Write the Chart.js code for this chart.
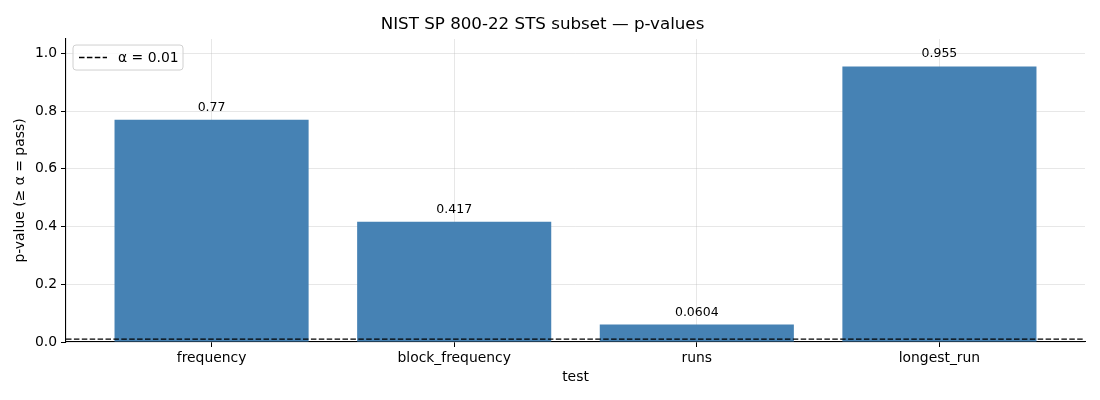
<!DOCTYPE html>
<html lang="en">
<head>
    <meta charset="UTF-8">
    <title>NIST SP 800-22 STS subset — p-values</title>
    <style>
        body {
            margin: 0;
            background-color: #fff;
        }
        #chartBox {
            width: 1100px;
            height: 400px;
        }
    </style>
</head>
<body>
    <div id="chartBox">
        <canvas id="pChart" width="1100" height="400"></canvas>
    </div>

    <script src="https://cdn.jsdelivr.net/npm/chart.js"></script>
    <script>
// data
var tests = ["frequency", "block_frequency", "runs", "longest_run"];
var pValues = [0.77, 0.417, 0.0604, 0.955];
var pLabels = ["0.77", "0.417", "0.0604", "0.955"];
var alpha = 0.01;
var alphaLabel = "α = 0.01";
var yTicks = [0, 0.2, 0.4, 0.6, 0.8, 1.0];

var FONT = "'DejaVu Sans', sans-serif";
var gridColor = "rgba(176,176,176,0.3)";
var dash = [5.5, 2.4];

// labels above the bars
var barLabels = {
    id: "barLabels",
    afterDatasetsDraw: function (chart) {
        var ctx = chart.ctx;
        var meta = chart.getDatasetMeta(1);
        ctx.save();
        ctx.font = "12.5px " + FONT;
        ctx.fillStyle = "#000";
        ctx.textAlign = "center";
        ctx.textBaseline = "bottom";
        meta.data.forEach(function (bar, i) {
            ctx.fillText(pLabels[i], bar.x, bar.y - 6);
        });
        ctx.restore();
    }
};

// matplotlib style legend box inside the plot, upper left
var innerLegend = {
    id: "innerLegend",
    afterDraw: function (chart) {
        var ctx = chart.ctx;
        var a = chart.chartArea;
        var x = a.left + 7, y = a.top + 6, w = 110, h = 25, r = 3;
        ctx.save();
        ctx.beginPath();
        ctx.moveTo(x + r, y);
        ctx.arcTo(x + w, y, x + w, y + h, r);
        ctx.arcTo(x + w, y + h, x, y + h, r);
        ctx.arcTo(x, y + h, x, y, r);
        ctx.arcTo(x, y, x + w, y, r);
        ctx.closePath();
        ctx.fillStyle = "rgba(255,255,255,0.8)";
        ctx.fill();
        ctx.strokeStyle = "#d0d0d0";
        ctx.lineWidth = 1;
        ctx.stroke();

        ctx.beginPath();
        ctx.setLineDash(dash);
        ctx.strokeStyle = "#000";
        ctx.lineWidth = 1.4;
        ctx.moveTo(x + 6, y + h / 2);
        ctx.lineTo(x + 34, y + h / 2);
        ctx.stroke();
        ctx.setLineDash([]);

        ctx.font = "13.9px " + FONT;
        ctx.fillStyle = "#000";
        ctx.textAlign = "left";
        ctx.textBaseline = "middle";
        ctx.fillText(alphaLabel, x + 45, y + h / 2 + 1);
        ctx.restore();
    }
};

var ctx = document.getElementById("pChart").getContext("2d");
new Chart(ctx, {
    data: {
        datasets: [{
            type: "line",
            label: alphaLabel,
            data: [{x: -0.6, y: alpha}, {x: tests.length - 0.4, y: alpha}],
            borderColor: "#000",
            borderWidth: 1.4,
            borderDash: dash,
            pointRadius: 0,
            fill: false,
            order: 0
        }, {
            type: "bar",
            label: "p-value",
            data: pValues.map(function (v, i) { return {x: i, y: v}; }),
            backgroundColor: "#4682b4",
            borderWidth: 0,
            barPercentage: 0.8,
            categoryPercentage: 1.0,
            order: 1
        }]
    },
    options: {
        responsive: false,
        animation: false,
        layout: {padding: {left: 0, right: 15, top: 0, bottom: 0}},
        plugins: {
            legend: {display: false},
            tooltip: {enabled: false},
            title: {
                display: true,
                text: "NIST SP 800-22 STS subset — p-values",
                color: "#000",
                font: {family: FONT, size: 16.7, weight: "normal"},
                padding: {top: 15, bottom: 4}
            }
        },
        scales: {
            x: {
                type: "linear",
                z: 1,
                offset: false,
                min: -0.6,
                max: tests.length - 0.4,
                afterBuildTicks: function (scale) {
                    scale.ticks = tests.map(function (t, i) { return {value: i}; });
                },
                afterFit: function (scale) { scale.height = 58; },
                ticks: {
                    color: "#000",
                    font: {family: FONT, size: 13.9},
                    padding: 3,
                    maxRotation: 0,
                    autoSkip: false,
                    callback: function (v) { return tests[v]; }
                },
                grid: {offset: false, color: gridColor, tickColor: "#000", tickLength: 5, lineWidth: 1},
                border: {color: "#000", width: 1.1},
                title: {
                    display: true,
                    text: "test",
                    color: "#000",
                    font: {family: FONT, size: 13.9},
                    padding: {top: 4, bottom: 14}
                }
            },
            y: {
                type: "linear",
                z: 1,
                min: 0,
                max: 1.05,
                afterBuildTicks: function (scale) {
                    scale.ticks = yTicks.map(function (v) { return {value: v}; });
                },
                afterFit: function (scale) { scale.width = 66; },
                ticks: {
                    color: "#000",
                    font: {family: FONT, size: 13.9},
                    padding: 4,
                    callback: function (v) { return v.toFixed(1); }
                },
                grid: {color: gridColor, tickColor: "#000", tickLength: 5, lineWidth: 1},
                border: {color: "#000", width: 1.1},
                title: {
                    display: true,
                    text: "p-value (≥ α = pass)",
                    color: "#000",
                    font: {family: FONT, size: 13.9},
                    padding: {top: 12, bottom: 4}
                }
            }
        }
    },
    plugins: [barLabels, innerLegend]
});
    </script>
</body>
</html>
